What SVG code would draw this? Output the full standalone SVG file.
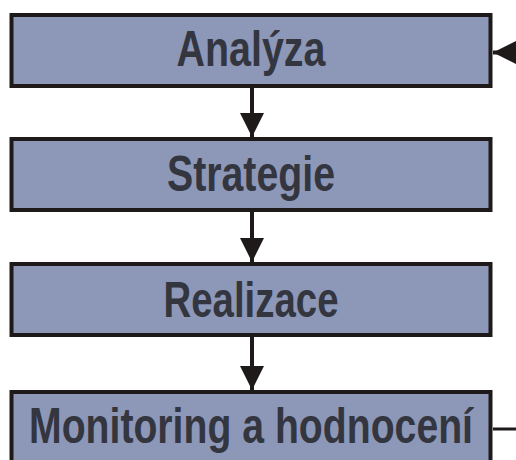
<svg xmlns="http://www.w3.org/2000/svg" width="516" height="460" viewBox="0 0 516 460">
<style>
.box{fill:#8D97B7;stroke:#1E1A1A;stroke-width:4}
.lbl{font-family:"Liberation Sans",Arial,sans-serif;font-weight:bold;font-size:50px;fill:#33353F;text-anchor:middle}
.conn{stroke:#1E1A1A;stroke-width:4;fill:none}
</style>
<defs>
<marker id="ah" viewBox="0 0 24 24" refX="24" refY="12" markerWidth="24" markerHeight="24" markerUnits="userSpaceOnUse" orient="auto">
<path d="M0,0 L24,12 L0,24 Z" fill="#1E1A1A"/>
</marker>
</defs>
<rect width="516" height="460" fill="#ffffff"/>
<g id="connectors">
<line class="conn" x1="252" y1="88" x2="252" y2="137" marker-end="url(#ah)"/>
<line class="conn" x1="252" y1="212" x2="252" y2="262" marker-end="url(#ah)"/>
<line class="conn" x1="252" y1="337" x2="252" y2="390" marker-end="url(#ah)"/>
<path class="conn" style="stroke-width:3" d="M493,429 L540,429 L540,52.5"/>
<line class="conn" x1="540" y1="52.5" x2="493" y2="52.5" marker-end="url(#ah)"/>
</g>
<g id="analyza">
<rect class="box" x="11.5" y="15" width="479" height="71"/>
<text class="lbl" x="251" y="66" textLength="149" lengthAdjust="spacingAndGlyphs">Analýza</text>
</g>
<g id="strategie">
<rect class="box" x="11.5" y="139" width="479" height="71"/>
<text class="lbl" x="251" y="191" textLength="168" lengthAdjust="spacingAndGlyphs">Strategie</text>
</g>
<g id="realizace">
<rect class="box" x="11.5" y="264" width="479" height="71"/>
<text class="lbl" x="251" y="317" textLength="175" lengthAdjust="spacingAndGlyphs">Realizace</text>
</g>
<g id="monitoring">
<rect class="box" x="11.5" y="392" width="479" height="80"/>
<text class="lbl" x="251" y="443" textLength="444" lengthAdjust="spacingAndGlyphs">Monitoring a hodnocení</text>
</g>
</svg>
